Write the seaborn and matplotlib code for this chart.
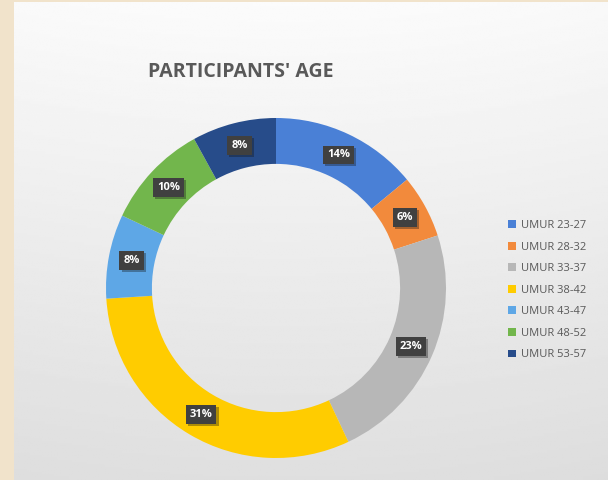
import numpy as np
import seaborn as sns
import matplotlib.pyplot as plt
import matplotlib.patheffects as pe

# Data
age_groups = ["UMUR 23-27", "UMUR 28-32", "UMUR 33-37", "UMUR 38-42",
              "UMUR 43-47", "UMUR 48-52", "UMUR 53-57"]
shares = [14, 6, 23, 31, 8, 10, 8]
colors = ["#4a80d6", "#f28a3c", "#b7b7b7", "#ffcc00",
          "#5ea7e6", "#72b64c", "#274c8a"]

sns.set_theme(style="white")
plt.rcParams['font.family'] = ['Open Sans', 'DejaVu Sans']

fig = plt.figure(figsize=(6.08, 4.8), dpi=100)
fig.patch.set_facecolor("#f1e3cb")

# Slide-like panel with soft gradient
bg = fig.add_axes([14 / 608, 0, 594 / 608, 478 / 480])
yy, xx = np.mgrid[0:1:200j, 0:1:200j]
grad = 0.985 - 0.11 * yy - 0.03 * ((xx - 0.45) ** 2)
bg.imshow(grad, cmap="gray", vmin=0, vmax=1, aspect="auto",
          extent=[0, 1, 0, 1], origin="upper")
bg.axis("off")

fig.text(241 / 608, 1 - 72 / 480, "PARTICIPANTS' AGE", ha="center",
         va="center", fontsize=14, fontweight="bold", color="#595959")

# Donut
ax = fig.add_axes([106 / 608, 22 / 480, 340 / 608, 340 / 480])
wedges, _, autotexts = ax.pie(
    shares, colors=colors, startangle=90, counterclock=False,
    radius=1.0, wedgeprops=dict(width=0.27, edgecolor="none"),
    autopct=lambda p: f"{p:.0f}%", pctdistance=0.865,
    textprops=dict(color="white", fontsize=8, fontweight="bold"))
for t in autotexts:
    t.set_bbox(dict(boxstyle="square,pad=0.35", facecolor="#404040",
                    edgecolor="none"))
    t.get_bbox_patch().set_path_effects(
        [pe.SimplePatchShadow(offset=(1.5, -1.5), alpha=0.35),
         pe.Normal()])
ax.set_xlim(-1, 1)
ax.set_ylim(-1, 1)
ax.set_aspect("equal")
ax.axis("off")

# Legend
leg = fig.legend(wedges, age_groups, loc="upper left",
                 bbox_to_anchor=(498 / 608, 1 - 210 / 480),
                 frameon=False, fontsize=8, labelspacing=0.95,
                 handlelength=0.7, handleheight=0.7, handletextpad=0.5)
for txt in leg.get_texts():
    txt.set_color("#595959")

fig.savefig("out.png", dpi=100)
